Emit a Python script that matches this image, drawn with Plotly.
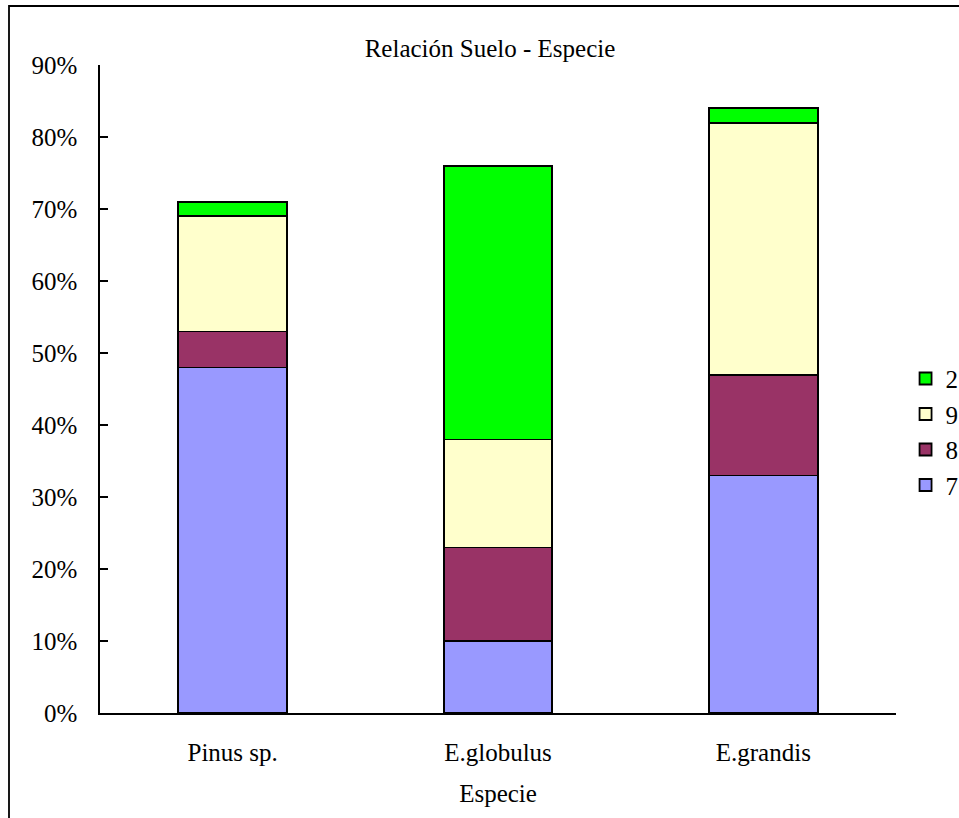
import plotly.graph_objects as go

# Species on the x axis
especies = ["Pinus sp.", "E.globulus", "E.grandis"]

# Share of each soil class per species (percent)
suelo_7 = [48, 10, 33]
suelo_8 = [5, 13, 14]
suelo_9 = [16, 15, 35]
suelo_2 = [2, 38, 2]

serie_nombres = ["7", "8", "9", "2"]
serie_valores = [suelo_7, suelo_8, suelo_9, suelo_2]
serie_colores = ["#9999FF", "#993366", "#FFFFCC", "#00FF00"]

y_ticks = list(range(0, 91, 10))
y_tick_labels = [f"{v}%" for v in y_ticks]

FONT = "Liberation Serif"
SIZE = 25

fig = go.Figure()
for nombre, valores, color in zip(serie_nombres, serie_valores, serie_colores):
    fig.add_trace(go.Bar(
        x=especies,
        y=valores,
        name=nombre,
        legendgroup=nombre,
        marker=dict(color=color, line=dict(color="black", width=1.8)),
    ))

fig.update_layout(
    width=959,
    height=818,
    barmode="stack",
    bargap=0.59,
    plot_bgcolor="white",
    paper_bgcolor="white",
    margin=dict(l=100, r=63, t=65, b=105, autoexpand=False),
    font=dict(family=FONT, size=SIZE, color="black"),
    title=dict(
        text="Relación Suelo - Especie",
        x=490 / 959,
        xanchor="center",
        y=1 - 48 / 818,
        yanchor="middle",
        font=dict(family=FONT, size=SIZE, color="black"),
    ),
    showlegend=True,
    legend=dict(
        traceorder="reversed",
        tracegroupgap=9,
        x=1.012,
        xanchor="left",
        y=0.434,
        yanchor="middle",
        font=dict(family=FONT, size=SIZE, color="black"),
        bgcolor="rgba(0,0,0,0)",
        itemclick=False,
    ),
    xaxis=dict(
        title=dict(text="Especie", font=dict(family=FONT, size=SIZE), standoff=20),
        showline=True,
        linecolor="black",
        linewidth=1.5,
        ticks="",
        showgrid=False,
        tickfont=dict(family=FONT, size=SIZE),
        ticklabelstandoff=16,
    ),
    yaxis=dict(
        range=[0, 90],
        tickvals=y_ticks,
        ticktext=y_tick_labels,
        showline=True,
        linecolor="black",
        linewidth=1.5,
        ticks="inside",
        ticklen=8,
        tickcolor="black",
        tickwidth=1.5,
        showgrid=False,
        zeroline=False,
        tickfont=dict(family=FONT, size=SIZE),
        ticklabelstandoff=16,
    ),
    shapes=[
        # outer chart frame, running past the right and bottom edges
        dict(
            type="rect",
            xref="paper",
            yref="paper",
            x0=(9 - 100) / 796,
            x1=(1000 - 100) / 796,
            y0=(713 - 860) / 648,
            y1=(713 - 6) / 648,
            line=dict(color="black", width=1.8),
            fillcolor="rgba(0,0,0,0)",
            layer="below",
        )
    ],
)

fig.write_html("out.html")
